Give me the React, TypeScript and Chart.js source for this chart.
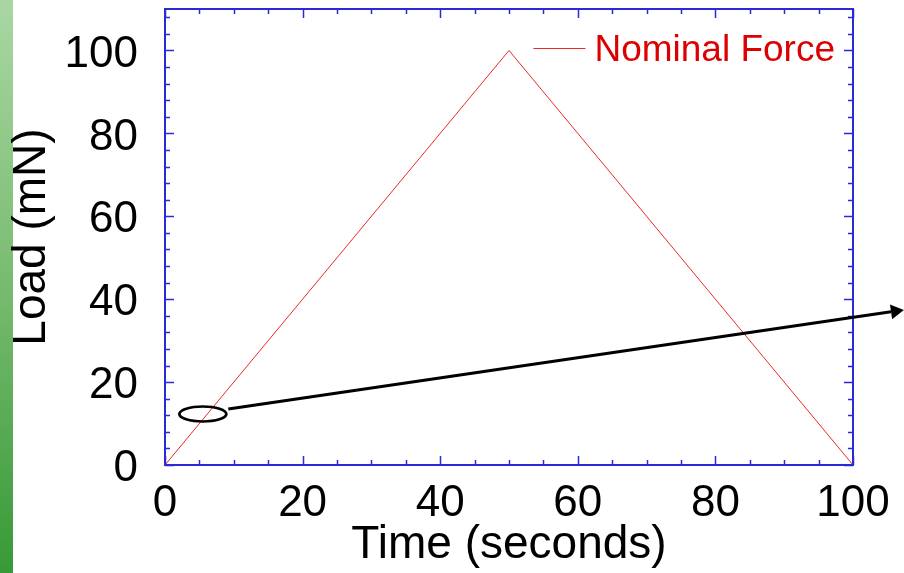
import React, { useEffect, useRef } from "react";
import { Chart, registerables } from "chart.js";

Chart.register(...registerables);

// ---- data ----
const TIME = [0, 50, 100];
const LOAD = [0, 100, 0];
const X_TICKS = [0, 20, 40, 60, 80, 100];
const Y_TICKS = [0, 20, 40, 60, 80, 100];
const X_MINOR_STEP = 5;
const Y_MINOR_STEP = 4;
const X_MIN = 0;
const X_MAX = 100;
const Y_MIN = 0;
const Y_MAX = 110;
const SERIES_LABEL = "Nominal Force";
const X_TITLE = "Time (seconds)";
const Y_TITLE = "Load (mN)";
// callout annotation, in data units
const CALLOUT_CENTER = { x: 5.5, y: 12.3 };
const ARROW_START = { x: 9.2, y: 13.5 };
const ARROW_END = { x: 107.4, y: 37.4 };

const FONT = "'Liberation Sans', Arial, sans-serif";
const BLUE = "#2a2ad8";
const RED_LINE = "rgb(238,40,40)";
const RED_TEXT = "#dd0000";

const decorPlugin = {
  id: "decor",
  beforeDraw(chart: any) {
    const ctx = chart.ctx;
    ctx.save();
    const g = ctx.createLinearGradient(0, 0, 0, chart.height);
    g.addColorStop(0, "#a9d7a2");
    g.addColorStop(0.5, "#78bb70");
    g.addColorStop(1, "#379a37");
    ctx.fillStyle = g;
    ctx.fillRect(0, 0, 13, chart.height);
    ctx.restore();
  },
  afterDraw(chart: any) {
    const ctx = chart.ctx;
    const { left, right, top, bottom } = chart.chartArea;
    const xs = chart.scales.x;
    const ys = chart.scales.y;
    ctx.save();
    // frame
    ctx.strokeStyle = BLUE;
    ctx.lineWidth = 2;
    ctx.strokeRect(left, top, right - left, bottom - top);
    // ticks
    ctx.lineWidth = 1.5;
    ctx.beginPath();
    for (let v = X_MIN; v <= X_MAX + 1e-9; v += X_MINOR_STEP) {
      const px = Math.round(xs.getPixelForValue(v)) + 0.5;
      const len = X_TICKS.includes(v) ? 9 : 5;
      ctx.moveTo(px, bottom);
      ctx.lineTo(px, bottom - len);
      ctx.moveTo(px, top);
      ctx.lineTo(px, top + len);
    }
    for (let v = Y_MIN; v <= Y_MAX + 1e-9; v += Y_MINOR_STEP) {
      const py = Math.round(ys.getPixelForValue(v)) + 0.5;
      const len = Y_TICKS.includes(v) ? 9 : 5;
      ctx.moveTo(left, py);
      ctx.lineTo(left + len, py);
      ctx.moveTo(right, py);
      ctx.lineTo(right - len, py);
    }
    ctx.stroke();

    // legend
    ctx.font = `37px ${FONT}`;
    ctx.fillStyle = RED_TEXT;
    ctx.textAlign = "right";
    ctx.textBaseline = "alphabetic";
    const textRight = right - 18;
    const tw = ctx.measureText(SERIES_LABEL).width;
    ctx.fillText(SERIES_LABEL, textRight, top + 52);
    const lineEnd = textRight - tw - 9;
    ctx.strokeStyle = RED_LINE;
    ctx.lineWidth = 1;
    ctx.beginPath();
    ctx.moveTo(lineEnd - 52, top + 39.5);
    ctx.lineTo(lineEnd, top + 39.5);
    ctx.stroke();

    // callout ellipse
    ctx.strokeStyle = "#000";
    ctx.lineWidth = 2.7;
    ctx.beginPath();
    ctx.ellipse(
      xs.getPixelForValue(CALLOUT_CENTER.x),
      ys.getPixelForValue(CALLOUT_CENTER.y),
      23.5,
      7.5,
      0,
      0,
      Math.PI * 2
    );
    ctx.stroke();

    // arrow
    const x1 = xs.getPixelForValue(ARROW_START.x);
    const y1 = ys.getPixelForValue(ARROW_START.y);
    const x2 = xs.getPixelForValue(ARROW_END.x);
    const y2 = ys.getPixelForValue(ARROW_END.y);
    const ang = Math.atan2(y2 - y1, x2 - x1);
    const headLen = 13;
    const headW = 7.5;
    const bx = x2 - headLen * Math.cos(ang);
    const by = y2 - headLen * Math.sin(ang);
    ctx.lineWidth = 3;
    ctx.beginPath();
    ctx.moveTo(x1, y1);
    ctx.lineTo(bx, by);
    ctx.stroke();
    ctx.fillStyle = "#000";
    ctx.beginPath();
    ctx.moveTo(x2, y2);
    ctx.lineTo(bx + headW * Math.sin(ang), by - headW * Math.cos(ang));
    ctx.lineTo(bx - headW * Math.sin(ang), by + headW * Math.cos(ang));
    ctx.closePath();
    ctx.fill();
    ctx.restore();
  },
};

export default function App() {
  const ref = useRef<HTMLCanvasElement>(null);
  useEffect(() => {
    if (!ref.current) return;
    const chart = new Chart(ref.current, {
      type: "line",
      data: {
        datasets: [
          {
            label: SERIES_LABEL,
            data: TIME.map((t, i) => ({ x: t, y: LOAD[i] })),
            borderColor: RED_LINE,
            borderWidth: 1,
            pointRadius: 0,
            tension: 0,
            fill: false,
          },
        ],
      },
      options: {
        responsive: false,
        animation: false,
        devicePixelRatio: 1,
        layout: { padding: { top: 9, right: 51, left: 0, bottom: 0 } },
        plugins: {
          legend: { display: false },
          tooltip: { enabled: false },
        },
        scales: {
          x: {
            type: "linear",
            min: X_MIN,
            max: X_MAX,
            afterBuildTicks: (s: any) => {
              s.ticks = X_TICKS.map((v) => ({ value: v }));
            },
            afterFit: (s: any) => {
              s.height = 108;
              s.paddingLeft = 0;
              s.paddingRight = 0;
            },
            grid: { display: false, drawTicks: false, tickLength: 0 },
            border: { display: false },
            ticks: {
              font: { size: 44, family: FONT },
              color: "#000",
              padding: 12,
              maxRotation: 0,
              autoSkip: false,
            },
            title: {
              display: true,
              text: X_TITLE,
              color: "#000",
              font: { size: 46, family: FONT },
              padding: { top: 0, bottom: 0 },
            },
          },
          y: {
            type: "linear",
            min: Y_MIN,
            max: Y_MAX,
            afterBuildTicks: (s: any) => {
              s.ticks = Y_TICKS.map((v) => ({ value: v }));
            },
            afterFit: (s: any) => {
              s.width = 165;
              s.paddingTop = 0;
              s.paddingBottom = 0;
            },
            grid: { display: false, drawTicks: false, tickLength: 0 },
            border: { display: false },
            ticks: {
              font: { size: 44, family: FONT },
              color: "#000",
              padding: 27,
              labelOffset: 4,
              autoSkip: false,
            },
            title: {
              display: true,
              text: Y_TITLE,
              color: "#000",
              font: { size: 46, family: FONT },
              padding: { top: 5, bottom: 0 },
            },
          },
        },
      },
      plugins: [decorPlugin],
    } as any);
    return () => chart.destroy();
  }, []);
  return (
    <div style={{ position: "fixed", left: 0, top: 0, width: 904, height: 573 }}>
      <canvas ref={ref} width={904} height={573} style={{ display: "block", width: 904, height: 573 }} />
    </div>
  );
}
